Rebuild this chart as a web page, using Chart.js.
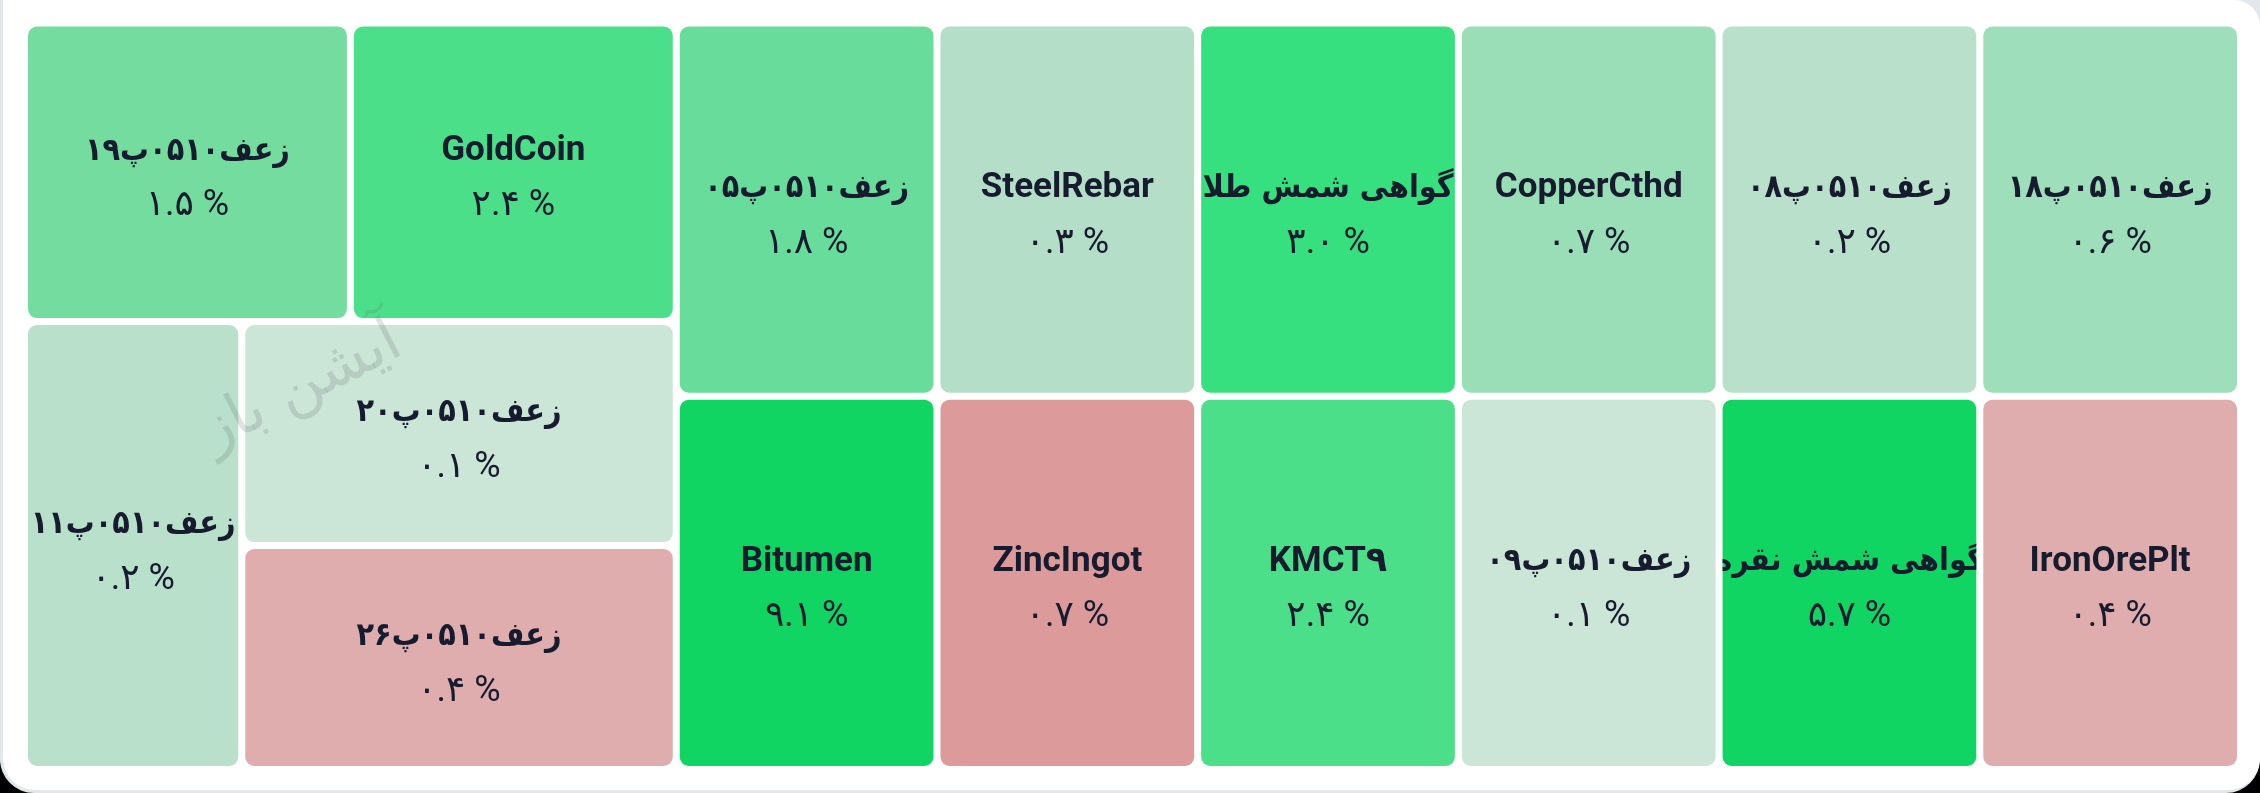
<!DOCTYPE html>
<html>
<head>
<meta charset="utf-8">
<script src="https://cdn.jsdelivr.net/npm/chart.js@4.4.0/dist/chart.umd.min.js"></script>
<style>
html, body { margin: 0; padding: 0; background: #000; }
.screen { position: relative; width: 2260px; height: 793px; background: #e3e7eb; border-radius: 0 0 34px 34px; overflow: hidden; }
.card { position: absolute; left: 3px; top: 0; width: 2257px; height: 790px; background: #fff; border-radius: 0 26px 32px 32px; }
#chart { position: absolute; left: 0; top: 0; }
</style>
</head>
<body>
<div class="screen">
  <div class="card"></div>
  <canvas id="chart" width="2260" height="793"></canvas>
</div>
<script>
// cells in treemap order (layout runs right to left)
const names = [
    'زعف۰۵۱۰پ۱۸', 'IronOrePlt',
    'زعف۰۵۱۰پ۰۸', 'گواهی شمش نقره',
    'CopperCthd', 'زعف۰۵۱۰پ۰۹',
    'گواهی شمش طلا', 'KMCT۹',
    'SteelRebar', 'ZincIngot',
    'زعف۰۵۱۰پ۰۵', 'Bitumen',
    'GoldCoin', 'زعف۰۵۱۰پ۱۹',
    'زعف۰۵۱۰پ۲۰', 'زعف۰۵۱۰پ۲۶',
    'زعف۰۵۱۰پ۱۱'
]
const changes = [0.6, -0.4, 0.2, 5.7, 0.7, 0.1, 3.0, 2.4, 0.3, -0.7, 1.8, 9.1, 2.4, 1.5, 0.1, -0.4, 0.2]
const weights = [1, 1, 1, 1, 1, 1, 1, 1, 1, 1, 1, 1, 1, 1, 1, 1, 1]
const watermark = 'آیشن باز'

// colour scale for the change (style, not data)
const upStops = [[0, '#d6e8de'], [0.1, '#cbe5d7'], [0.2, '#b9e0cb'], [0.3, '#b4dec8'], [0.65, '#9bdeb8'],
    [1.5, '#74dc9f'], [1.8, '#68dd9b'], [2.4, '#4bdf8a'], [3.0, '#36e07e'], [4.5, '#10d562']]
const downStops = [[0, '#e3c9c9'], [0.4, '#dfadad'], [0.7, '#dc9a9b'], [2, '#d87878']]

function hex(c) {
    return [1, 3, 5].map(i => parseInt(c.substr(i, 2), 16))
}

function colorFor(v) {
    const stops = v >= 0 ? upStops : downStops
    const a = Math.abs(v)
    if (a >= stops[stops.length - 1][0]) return stops[stops.length - 1][1]
    for (let i = 1; i < stops.length; i++) {
        if (a <= stops[i][0]) {
            const t = (a - stops[i - 1][0]) / (stops[i][0] - stops[i - 1][0])
            const c0 = hex(stops[i - 1][1]), c1 = hex(stops[i][1])
            const c = c0.map((x, k) => Math.round(x + (c1[k] - x) * t))
            return `rgb(${c[0]},${c[1]},${c[2]})`
        }
    }
}

function fa(s) {
    return s.replace(/\d/g, d => '۰۱۲۳۴۵۶۷۸۹'[d])
}

function worst(row, side) {
    const s = row.reduce((a, b) => a + b, 0)
    const mx = Math.max(...row), mn = Math.min(...row)
    return Math.max(side * side * mx / (s * s), s * s / (side * side * mn))
}

function squarify(values, x, y, w, h) {
    const total = values.reduce((a, b) => a + b, 0)
    const areas = values.map(v => v * w * h / total)
    const rects = []
    let i = 0
    while (i < areas.length) {
        const side = Math.min(w, h)
        let row = [areas[i]]
        let best = worst(row, side)
        let j = i + 1
        while (j < areas.length) {
            const next = row.concat(areas[j])
            const wr = worst(next, side)
            if (wr > best) break
            row = next
            best = wr
            j++
        }
        const sum = row.reduce((a, b) => a + b, 0)
        if (w >= h) {
            const cw = sum / h
            let cy = y
            row.forEach(a => { rects.push({x: x, y: cy, w: cw, h: a / cw}); cy += a / cw })
            x += cw; w -= cw
        } else {
            const rh = sum / w
            let cx = x
            row.forEach(a => { rects.push({x: cx, y: y, w: a / rh, h: rh}); cx += a / rh })
            y += rh; h -= rh
        }
        i = j
    }
    return rects
}

const treemapPlugin = {
    id: 'treemap',
    afterDatasetsDraw(chart) {
        const {ctx, chartArea, scales} = chart
        const aspect = chartArea.width / chartArea.height
        const rects = squarify(weights, 0, 0, aspect, 1)
        const gap = 3.5
        ctx.save()
        ctx.direction = 'ltr'
        rects.forEach((r, i) => {
            // mirrored: the app lays the map from right to left
            const x0 = 1 - (r.x + r.w) / aspect
            const x1 = 1 - r.x / aspect
            const left = scales.x.getPixelForValue(x0) + gap
            const right = scales.x.getPixelForValue(x1) - gap
            const top = scales.y.getPixelForValue(r.y) + gap
            const bottom = scales.y.getPixelForValue(r.y + r.h) - gap
            ctx.beginPath()
            ctx.roundRect(left, top, right - left, bottom - top, 9)
            ctx.fillStyle = colorFor(changes[i])
            ctx.fill()

            ctx.save()
            ctx.clip()
            const cx = (left + right) / 2
            const cy = (top + bottom) / 2
            const persian = /[\u0600-\u06FF]/.test(names[i].replace(/[\u06F0-\u06F9]/g, ''))
            ctx.fillStyle = '#161b2d'
            ctx.textAlign = 'center'
            ctx.textBaseline = 'middle'
            ctx.font = persian ? 'bold 32px "DejaVu Sans Condensed", "DejaVu Sans", sans-serif'
                : 'bold 35px Roboto, "DejaVu Sans", sans-serif'
            ctx.fillText(names[i], cx, cy - 21)
            ctx.font = '36px Roboto, "DejaVu Sans", sans-serif'
            ctx.fillText(fa(Math.abs(changes[i]).toFixed(1)) + ' %', cx, cy + 34)
            ctx.restore()
        })
        // watermark
        ctx.translate(302, 388)
        ctx.rotate(-27 * Math.PI / 180)
        ctx.font = '60px "DejaVu Sans", sans-serif'
        ctx.fillStyle = 'rgba(90, 110, 100, 0.2)'
        ctx.textAlign = 'center'
        ctx.textBaseline = 'middle'
        ctx.fillText(watermark, 0, 0)
        ctx.restore()
    }
}

const chart = new Chart(document.getElementById('chart'), {
    type: 'scatter',
    data: {datasets: [{data: [], pointRadius: 0}]},
    options: {
        responsive: false,
        animation: false,
        layout: {padding: {left: 24.5, right: 19.5, top: 23, bottom: 23.5}},
        scales: {
            x: {display: false, min: 0, max: 1},
            y: {display: false, min: 0, max: 1, reverse: true}
        },
        plugins: {legend: {display: false}, tooltip: {enabled: false}}
    },
    plugins: [treemapPlugin]
})
</script>
</body>
</html>
